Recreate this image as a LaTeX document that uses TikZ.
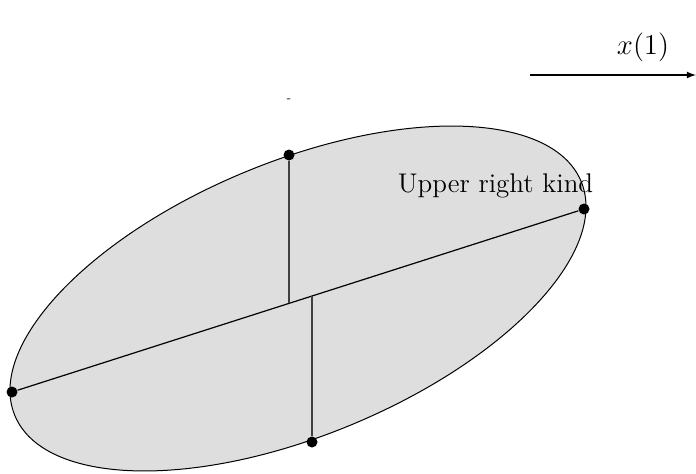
\documentclass[tikz,border=0pt]{standalone}
\begin{document}
\begin{tikzpicture}[x=0.5pt,y=0.5pt]
    \tikzset{punto/.style={circle, fill=black, inner sep=0pt, minimum size=5.5pt},
             rotulo/.style={font=\fontsize{13.5}{16}\selectfont}}
    \useasboundingbox (0,0) rectangle (696,473);

    % Eje x
    \coordinate (ejeA) at (530,398);
    \coordinate (ejeB) at (696,398);
    \draw[-latex, line width=0.6pt] (ejeA) -- (ejeB);
    \node[rotulo] (etx) at (643,426) {$x(1)$};
    \node[font=\tiny] (marca) at (289,373) {-};

    % Elipse
    \draw[fill=black!13, line width=0.5pt] (298,174.5) ellipse [x radius=306.4, y radius=137.1, rotate=22.45];

    % Puntos
    \node[punto] (L) at (12,81) {};
    \node[punto] (R) at (584,264) {};
    \node[punto] (T) at (289,318) {};
    \node[punto] (B) at (312,31) {};
    \coordinate (pT) at (289,169.6);
    \coordinate (pB) at (312,177);

    % Diametro y segmentos
    \draw[line width=0.6pt] (L) -- (R);
    \draw[black!75, line width=0.6pt] (T) -- (pT);
    \draw[black!75, line width=0.6pt] (B) -- (pB);

    \node[rotulo] (etR) at (495.5,287) {Upper right kind};
\end{tikzpicture}
\end{document}
